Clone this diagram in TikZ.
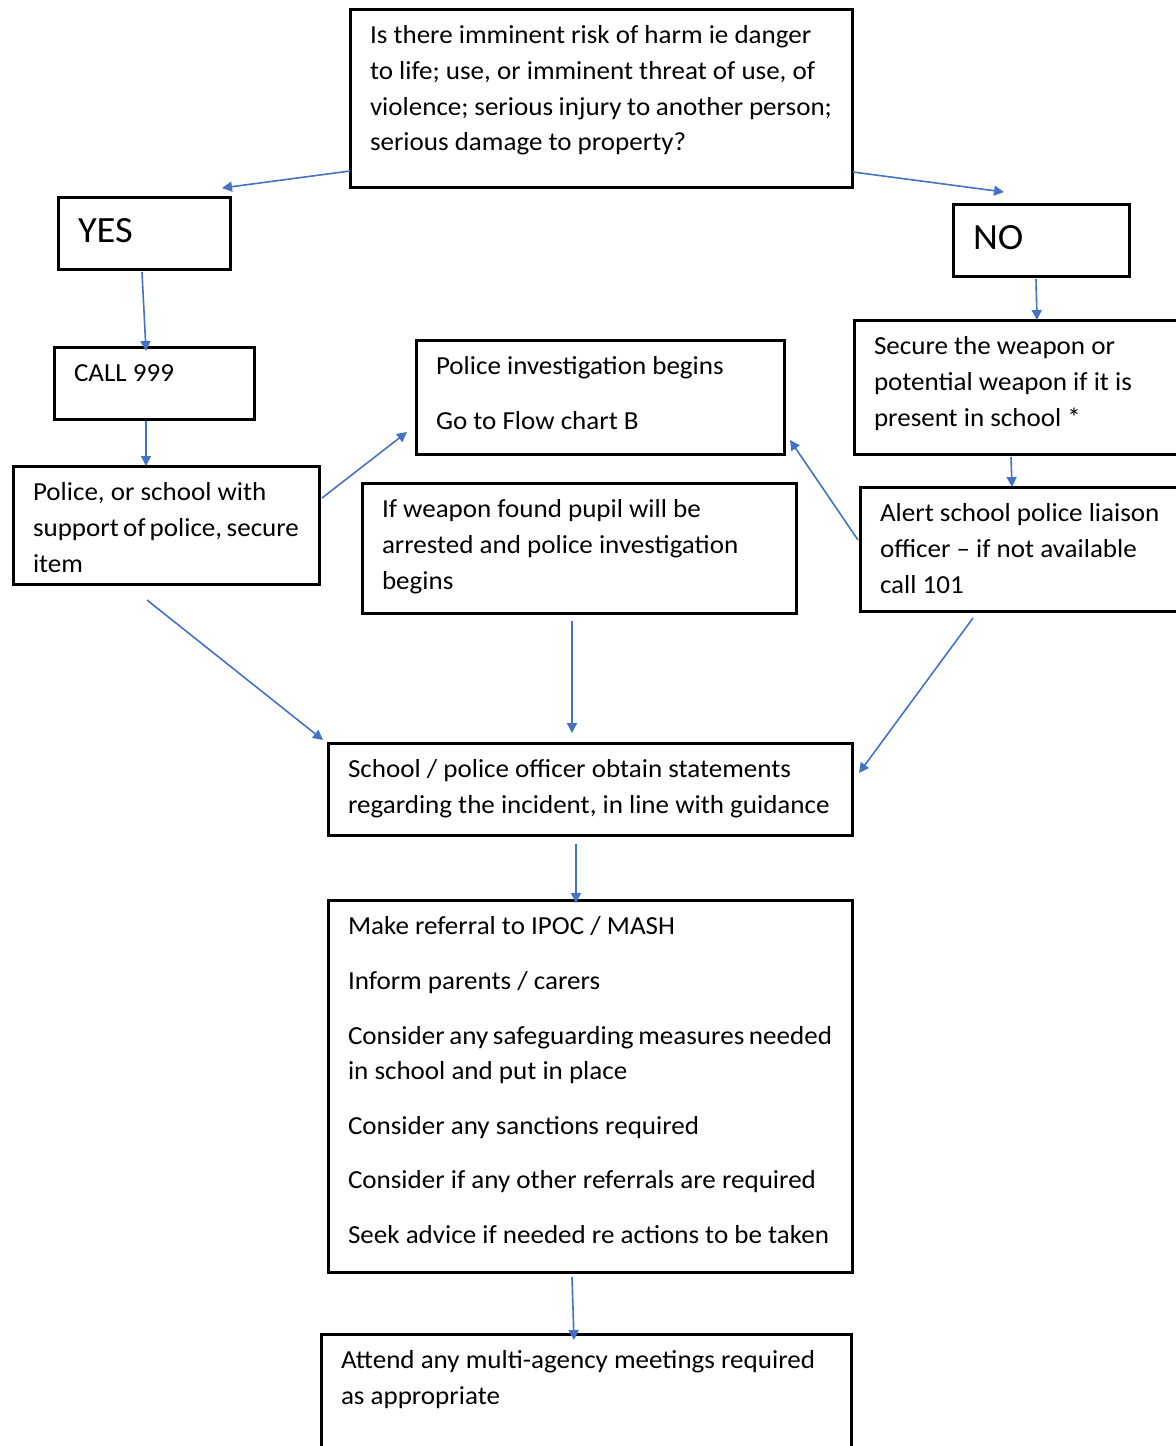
\documentclass[tikz,border=0pt]{standalone}
\usepackage{fontspec}
\setmainfont{Carlito}[FakeStretch=1.04]
\usetikzlibrary{arrows.meta,calc}

\definecolor{flowblue}{HTML}{4472C4}
\newcommand{\boxtext}[3]{\parbox[t][#2][t]{#1}{\strut #3}}

\tikzset{
  flowbox/.style={draw, line width=1.5pt, anchor=north west, outer sep=0pt,
    inner xsep=10pt, inner ysep=5pt, font=\fontsize{13}{17.8}\selectfont},
  answerbox/.style={flowbox, font=\fontsize{18.5}{25}\selectfont},
  flowarrow/.style={-{Triangle[width=5pt,length=5pt]}, draw=flowblue, line width=0.8pt},
}

\begin{document}
\begin{tikzpicture}[x=0.5pt, y=-0.5pt]
            \useasboundingbox (0,0) rectangle (1176,1446);
            \clip (0,0) rectangle (1176,1446);

            \node[flowbox] (risk) at (350,9) {\boxtext{231pt}{79pt}{Is there imminent risk of harm ie danger\\ to life; use, or imminent threat of use, of\\ violence; serious injury to another person;\\ serious damage to property?}};
            \node[answerbox] (yes) at (58,197) {\boxtext{66pt}{26pt}{YES}};
            \node[answerbox] (no) at (953,204) {\boxtext{68pt}{26pt}{NO}};
            \node[flowbox] (call) at (54,347) {\boxtext{80pt}{26pt}{CALL 999}};
            \node[flowbox] (invest) at (416,340) {\boxtext{164pt}{47pt}{Police investigation begins\\[9.5pt] Go to Flow chart B}};
            \node[flowbox] (secure) at (854,320) {\boxtext{150pt}{57pt}{Secure the weapon or\\ potential weapon if it is\\ present in school *}};
            \node[flowbox] (item) at (13,466) {\boxtext{133pt}{49pt}{Police, or school with\\ support of police, secure\\ item}};
            \node[flowbox] (found) at (362,483) {\boxtext{197pt}{55pt}{If weapon found pupil will be\\ arrested and police investigation\\ begins}};
            \node[flowbox] (alert) at (860,487) {\boxtext{145pt}{52pt}{Alert school police liaison\\ officer -- if not available\\ call 101}};
            \node[flowbox] (stmt) at (328,743) {\boxtext{242pt}{36pt}{School / police officer obtain statements\\ regarding the incident, in line with guidance}};
            \node[flowbox] (refer) at (328,900) {\boxtext{242pt}{176pt}{Make referral to IPOC / MASH\\[9.5pt] Inform parents / carers\\[9.5pt] Consider any safeguarding measures needed\\ in school and put in place\\[9.5pt] Consider any sanctions required\\[9.5pt] Consider if any other referrals are required\\[9.5pt] Seek advice if needed re actions to be taken}};
            \node[flowbox] (attend) at (321,1334) {\boxtext{245pt}{63pt}{Attend any multi-agency meetings required\\ as appropriate}};

            \draw[flowarrow] ($(risk.south west)+(0,-16)$) to ($(yes.north east)+(-8,-9)$);
            \draw[flowarrow] ($(risk.south east)+(1,-15)$) to ($(no.north west)+(51,-12)$);
            \draw[flowarrow] ($(yes.south)+(-2,3)$) to ($(call.north)+(-8,4)$);
            \draw[flowarrow] ($(no.south)+(-5,3)$) to ($(secure.north west)+(183,0)$);
            \draw[flowarrow] ($(call.south)+(-8,2)$) to ($(item.north)+(-20,0)$);
            \draw[flowarrow] ($(item.north east)+(3,32)$) to ($(invest.south west)+(-9,-22)$);
            \draw[flowarrow] ($(secure.south west)+(157,3)$) to ($(alert.north west)+(152,0)$);
            \draw[flowarrow] ($(alert.north west)+(-2,53)$) to ($(invest.south east)+(6,-14)$);
            \draw[flowarrow] ($(item.south)+(-19,16)$) to ($(stmt.north west)+(-5,-3)$);
            \draw[flowarrow] ($(found.south)+(-7,8)$) to ($(stmt.north)+(-18,-10)$);
            \draw[flowarrow] ($(alert.south west)+(113,7)$) to ($(stmt.north east)+(7,30)$);
            \draw[flowarrow] ($(stmt.south)+(-14,9)$) to ($(refer.north)+(-14,3)$);
            \draw[flowarrow] ($(refer.south)+(-18,5)$) to ($(attend.north)+(-12,6)$);
        \end{tikzpicture}
\end{document}
